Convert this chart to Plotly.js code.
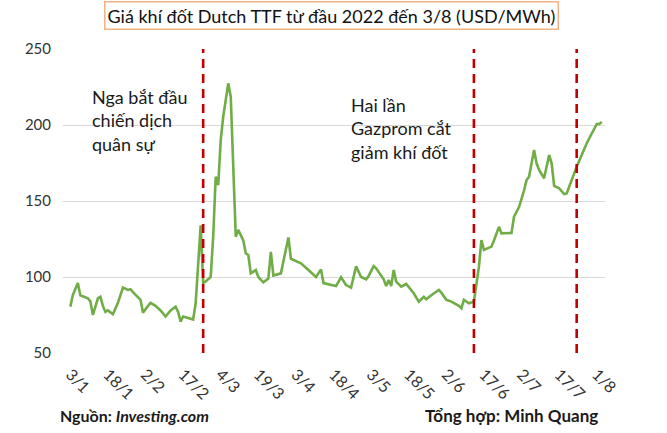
<!DOCTYPE html>
<html>
<head>
<meta charset="utf-8">
<script src="https://cdn.plot.ly/plotly-3.0.1.min.js"></script>
<style>
  html, body { margin: 0; padding: 0; background: #fff; }
  #myPlot { width: 667px; height: 433px; }
</style>
</head>
<body>
<div id="myPlot"></div>
<script>
// Dutch TTF gas price, USD/MWh
var dates = [
  '2022-01-03','2022-01-04','2022-01-06','2022-01-07','2022-01-10','2022-01-11','2022-01-12','2022-01-14',
  '2022-01-15','2022-01-16','2022-01-17','2022-01-18','2022-01-20','2022-01-22','2022-01-24','2022-01-26',
  '2022-01-27','2022-01-28','2022-01-31','2022-02-01','2022-02-03','2022-02-04','2022-02-06','2022-02-08',
  '2022-02-10','2022-02-12','2022-02-14','2022-02-15','2022-02-16','2022-02-17','2022-02-18','2022-02-21',
  '2022-02-22','2022-02-24','2022-02-25','2022-02-26','2022-02-28','2022-03-01','2022-03-02','2022-03-03',
  '2022-03-04','2022-03-05','2022-03-07','2022-03-08','2022-03-10','2022-03-11','2022-03-13','2022-03-14',
  '2022-03-15','2022-03-16','2022-03-18','2022-03-19','2022-03-21','2022-03-23','2022-03-24','2022-03-25',
  '2022-03-28','2022-03-31','2022-04-01','2022-04-05','2022-04-08','2022-04-11','2022-04-13','2022-04-14',
  '2022-04-19','2022-04-21','2022-04-23','2022-04-25','2022-04-27','2022-04-29','2022-05-01','2022-05-02',
  '2022-05-04','2022-05-05','2022-05-08','2022-05-09','2022-05-10','2022-05-11','2022-05-12','2022-05-13',
  '2022-05-15','2022-05-17','2022-05-20','2022-05-22','2022-05-24','2022-05-25','2022-05-27','2022-05-30',
  '2022-05-31','2022-06-02','2022-06-04','2022-06-07','2022-06-08','2022-06-09','2022-06-11','2022-06-13',
  '2022-06-15','2022-06-16','2022-06-17','2022-06-20','2022-06-21','2022-06-23','2022-06-24','2022-06-26',
  '2022-06-28','2022-06-29','2022-07-01','2022-07-03','2022-07-04','2022-07-05','2022-07-07','2022-07-08',
  '2022-07-09','2022-07-11','2022-07-13','2022-07-14','2022-07-15','2022-07-17','2022-07-19','2022-07-20',
  '2022-07-24','2022-07-28','2022-08-01','2022-08-02','2022-08-03'
];
var prices = [
  80.5, 88, 96, 88, 86, 84, 75, 86,
  87, 81, 77, 78, 75.5, 83, 93, 91.5,
  92, 90, 85, 76.5, 81, 83, 81, 78,
  74, 78, 80.5, 77, 70.6, 74, 73.5, 72,
  82.7, 134, 96, 97, 100, 126.5, 166, 160.5,
  190, 205.5, 227.4, 218.6, 126.5, 131, 124, 115.6,
  114.5, 102.4, 104.6, 100, 96.5, 99, 116.6, 101,
  102.4, 126, 112, 109, 104.6, 100, 105, 96,
  94, 99.8, 94.7, 93, 107, 100, 98.5, 100.7,
  107.2, 105.7, 98.5, 94, 98, 94, 104.6, 97,
  93.6, 95.4, 89.3, 83.8, 87, 85.3, 88, 91.5,
  89.7, 85, 83.8, 81, 79.4, 85, 82.7, 83.8,
  106.8, 124.3, 117.8, 120, 124, 133, 128.7, 129,
  129, 139.7, 146, 157, 163.8, 166, 183.6, 174.8,
  170.4, 165, 180.3, 174.8, 160, 158.4, 154.6, 155,
  172.6, 188, 200.7, 200.7, 202
];

// event markers (dashed red lines)
var eventDates = ['2022-02-25', '2022-06-13', '2022-07-24'];
var eventNotes = ['Nga bắt đầu<br>chiến dịch<br>quân sự', 'Hai lần<br>Gazprom cắt<br>giảm khí đốt'];
var noteDates = ['2022-01-11', '2022-04-24'];

var yTicks = [50, 100, 150, 200, 250];

var trace = {
  x: dates,
  y: prices,
  type: 'scatter',
  mode: 'lines',
  line: {color: '#70ad47', width: 2.6},
  hoverinfo: 'skip'
};

var shapes = eventDates.map(function (d) {
  return {
    type: 'line', xref: 'x', yref: 'y',
    x0: d, x1: d, y0: 50, y1: 250,
    line: {color: '#c00000', width: 2.6, dash: '9px,6px'}
  };
});

var annotations = [
  {
    text: 'Giá khí đốt Dutch TTF từ đầu 2022 đến 3/8 (USD/MWh)',
    xref: 'paper', yref: 'paper', x: 0.495, y: 1.11,
    xanchor: 'center', yanchor: 'middle', showarrow: false,
    font: {family: 'Lato', size: 18, color: '#111'},
    bordercolor: '#f4b183', borderwidth: 1.5, borderpad: 2, bgcolor: '#fff'
  },
  {
    text: '<b>Nguồn: <i>Investing.com</i></b>',
    xref: 'paper', yref: 'paper', x: -0.01, y: -0.205,
    xanchor: 'left', yanchor: 'middle', showarrow: false,
    font: {family: 'Lato', size: 16, color: '#1a1a1a'}
  },
  {
    text: '<b>Tổng hợp: Minh Quang</b>',
    xref: 'paper', yref: 'paper', x: 0.99, y: -0.205,
    xanchor: 'right', yanchor: 'middle', showarrow: false,
    font: {family: 'Lato', size: 17, color: '#1a1a1a'}
  }
];

eventNotes.forEach(function (t, i) {
  annotations.push({
    text: t, xref: 'x', yref: 'paper', x: noteDates[i], y: i === 0 ? 0.885 : 0.86,
    xanchor: 'left', yanchor: 'top', align: 'left', showarrow: false,
    font: {family: 'Lato', size: 18, color: '#1a1a1a'}
  });
});

var layout = {
  width: 667,
  height: 433,
  margin: {l: 63, r: 62, t: 49, b: 80},
  paper_bgcolor: '#fff',
  plot_bgcolor: '#fff',
  showlegend: false,
  font: {family: 'Lato', color: '#333'},
  xaxis: {
    type: 'date',
    range: ['2021-12-31 02:00', '2022-08-04 07:00'],
    tick0: '2022-01-03',
    dtick: 15 * 86400000,
    tickformat: '%-d/%-m',
    tickangle: 45,
    showgrid: false,
    zeroline: false,
    showline: false,
    ticks: 'outside',
    ticklen: 5,
    tickcolor: 'rgba(0,0,0,0)',
    tickfont: {family: 'Lato', size: 16, color: '#333'}
  },
  yaxis: {
    range: [50, 250],
    tickvals: yTicks,
    showgrid: true,
    gridcolor: '#d9d9d9',
    gridwidth: 1,
    zeroline: false,
    showline: false,
    ticks: 'outside',
    ticklen: 8,
    tickcolor: 'rgba(0,0,0,0)',
    tickfont: {family: 'Lato', size: 15, color: '#333'}
  },
  shapes: shapes,
  annotations: annotations
};

Plotly.newPlot('myPlot', [trace], layout, {displayModeBar: false, staticPlot: true});
</script>
</body>
</html>
